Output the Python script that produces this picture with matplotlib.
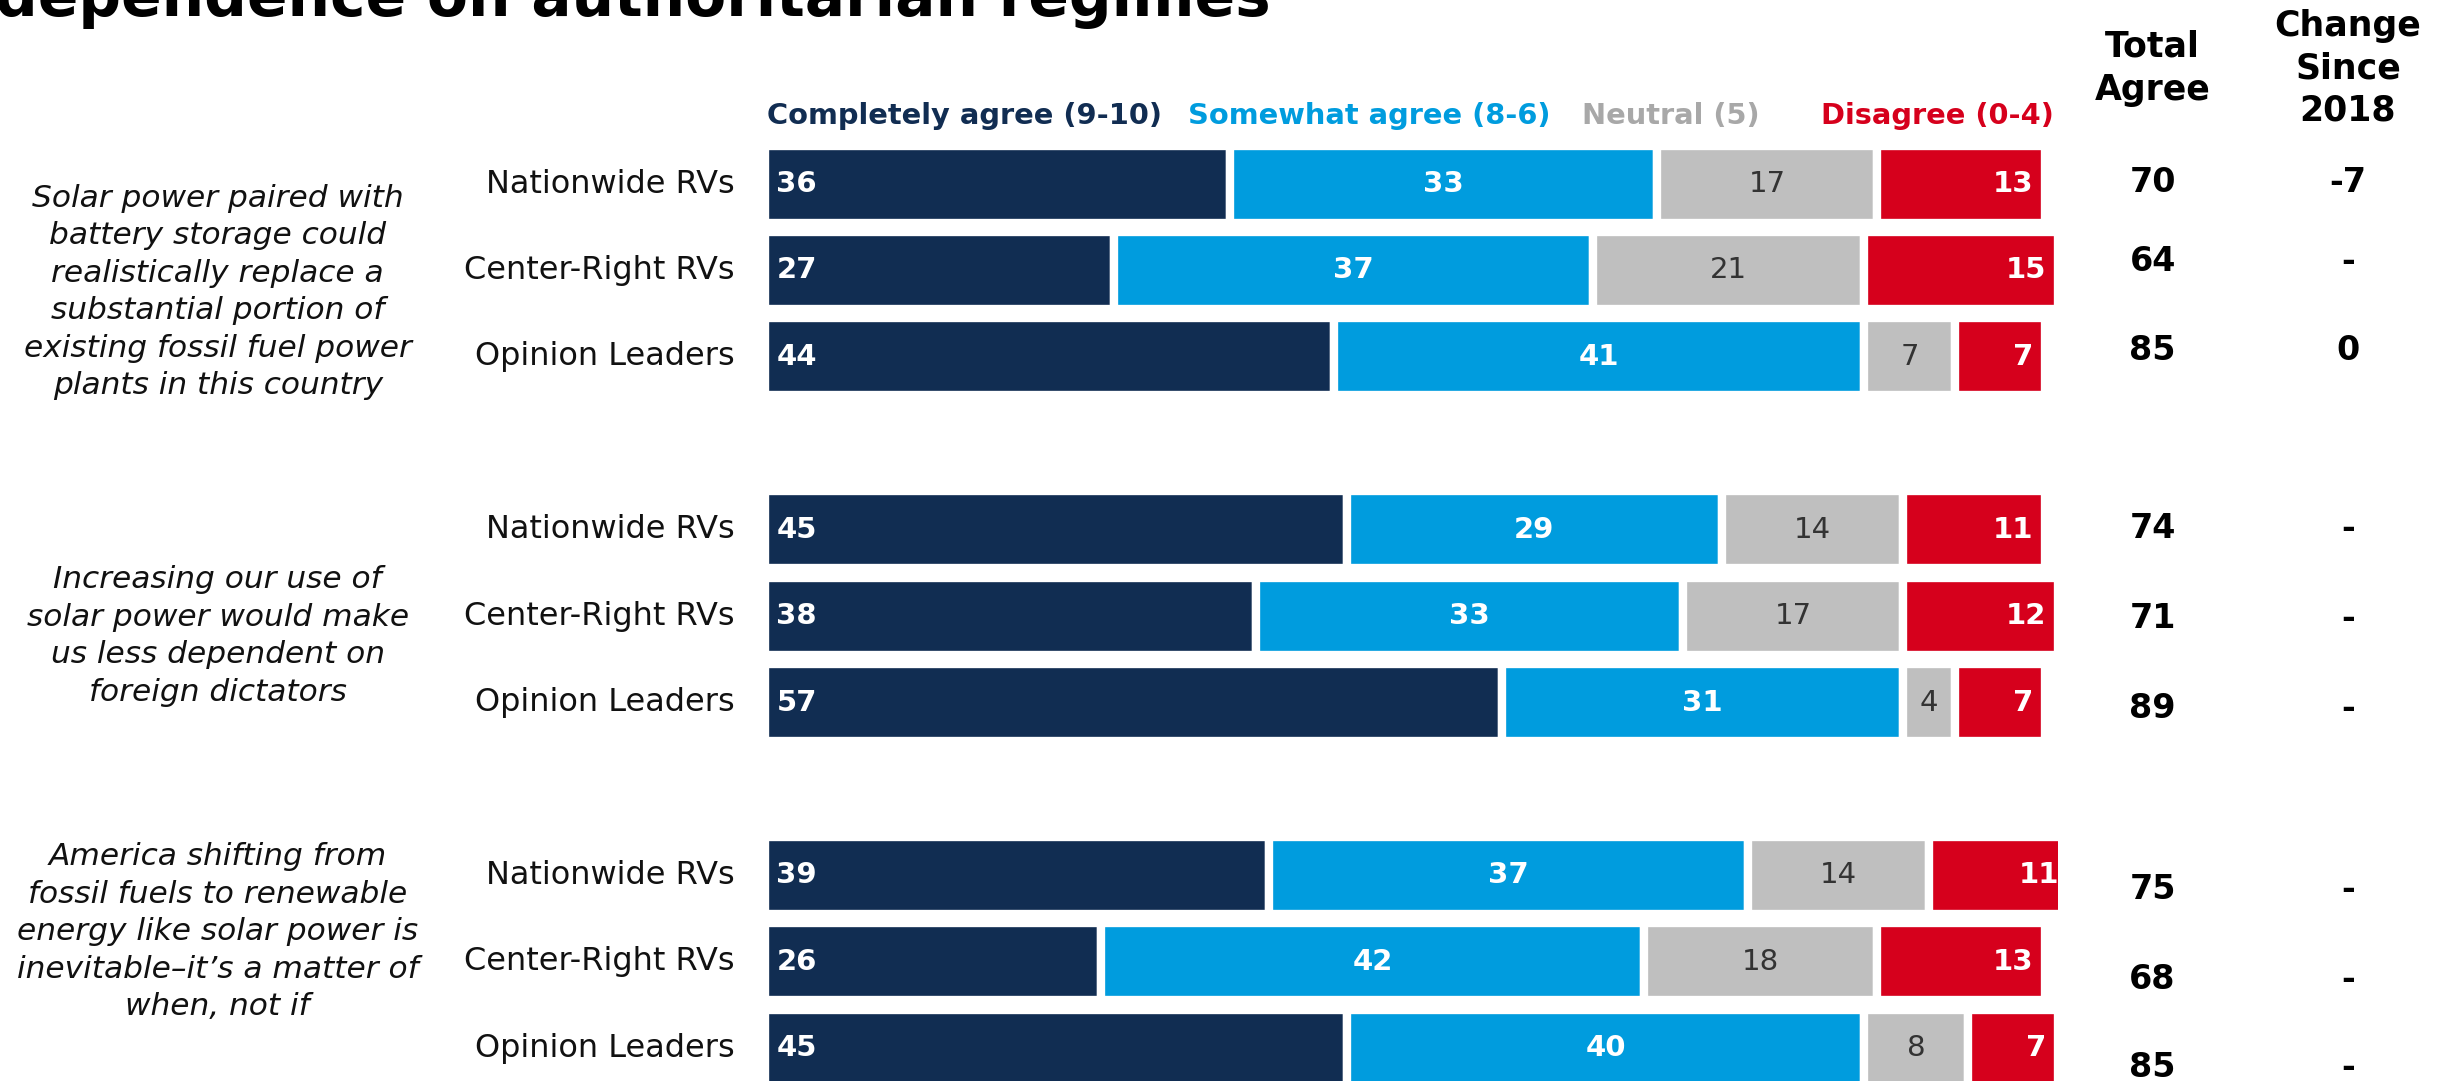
import matplotlib
matplotlib.use("Agg")
import matplotlib.pyplot as plt

# survey results, one entry per bar row (3 audiences x 3 statements)
statements = [
    "Solar power paired with\nbattery storage could\nrealistically replace a\nsubstantial portion of\nexisting fossil fuel power\nplants in this country",
    "Increasing our use of\nsolar power would make\nus less dependent on\nforeign dictators",
    "America shifting from\nfossil fuels to renewable\nenergy like solar power is\ninevitable\u2013it\u2019s a matter of\nwhen, not if",
]
audiences = ["Nationwide RVs", "Center-Right RVs", "Opinion Leaders"]
segments = ["Completely agree (9-10)", "Somewhat agree (8-6)", "Neutral (5)", "Disagree (0-4)"]

completely = [36, 27, 44, 45, 38, 57, 39, 26, 45]
somewhat = [33, 37, 41, 29, 33, 31, 37, 42, 40]
neutral = [17, 21, 7, 14, 17, 4, 14, 18, 8]
disagree = [13, 15, 7, 11, 12, 7, 11, 13, 7]
total_agree = [70, 64, 85, 74, 71, 89, 75, 68, 85]
change_2018 = ["-7", "-", "0", "-", "-", "-", "-", "-", "-"]

NAVY = "#112D52"
BLUE = "#009CDE"
GRAY = "#BFBFBF"
RED = "#D6001C"
seg_colors = [NAVY, BLUE, GRAY, RED]
legend_colors = [NAVY, BLUE, "#A8A8A8", RED]

# row positions: three rows per statement, one empty row between statements
rows = [g * 4 + r for g in range(len(statements)) for r in range(len(audiences))]

fig = plt.figure(figsize=(24.45, 10.81), dpi=100)
ax = fig.add_axes([0.3128, -0.0097, 0.5290, 0.8794])
ax.set_xlim(0, 100)
ax.set_ylim(10.5, -0.5)
ax.axis("off")

series = [completely, somewhat, neutral, disagree]
left = [0] * len(rows)
for vals, col in zip(series, seg_colors):
    ax.barh(rows, vals, left=left, height=0.89, color=col,
            edgecolor="white", linewidth=6)
    left = [l + v for l, v in zip(left, vals)]

# values inside the bars
for i, y in enumerate(rows):
    c, s, n, d = completely[i], somewhat[i], neutral[i], disagree[i]
    ax.text(0.9, y, str(c), ha="left", va="center", color="white",
            fontsize=21, fontweight="bold")
    ax.text(c + s / 2, y, str(s), ha="center", va="center", color="white",
            fontsize=21, fontweight="bold")
    ax.text(c + s + n / 2, y, str(n), ha="center", va="center", color="#333333",
            fontsize=21)
    ax.text(c + s + n + d - 0.9, y, str(d), ha="right", va="center",
            color="white", fontsize=21, fontweight="bold")

# audience labels
for i, y in enumerate(rows):
    ax.text(-2.3, y, audiences[i % 3], ha="right", va="center",
            fontsize=23, color="#111111")

# statement text on the left
stmt_y = [1.25, 5.23, 8.65]
for txt, y in zip(statements, stmt_y):
    ax.text(-42.3, y, txt, ha="center", va="center", fontsize=22.5,
            style="italic", linespacing=1.37, color="#111111")

# side columns (slightly staggered as in the deck layout)
side_shift = [-0.02, -0.1, -0.07, -0.02, 0.03, 0.07, 0.16, 0.2, 0.22]
TOTAL_X, CHANGE_X = 107.3, 122.4
for i, y in enumerate(rows):
    ax.text(TOTAL_X, y + side_shift[i], str(total_agree[i]), ha="center",
            va="center", fontsize=24, fontweight="bold")
    ax.text(CHANGE_X, y + side_shift[i], change_2018[i], ha="center",
            va="center", fontsize=24, fontweight="bold")

ax.text(TOTAL_X, -1.34, "Total\nAgree", ha="center", va="center",
        fontsize=25, fontweight="bold", linespacing=1.32)
ax.text(CHANGE_X, -1.34, "Change\nSince\n2018", ha="center", va="center",
        fontsize=25, fontweight="bold", linespacing=1.32)

# colour-coded legend above the bars
leg_x = [0.2, 32.7, 63.2, 99.7]
leg_ha = ["left", "left", "left", "right"]
for lab, col, x, ha in zip(segments, legend_colors, leg_x, leg_ha):
    ax.text(x, -0.79, lab, ha=ha, va="center", color=col,
            fontsize=20.8, fontweight="bold")

fig.text(-0.002, 0.9856, "dependence on authoritarian regimes", ha="left",
         va="baseline", fontsize=43, fontweight="bold", color="black")

fig.savefig("out.png", dpi=100, facecolor="white")
